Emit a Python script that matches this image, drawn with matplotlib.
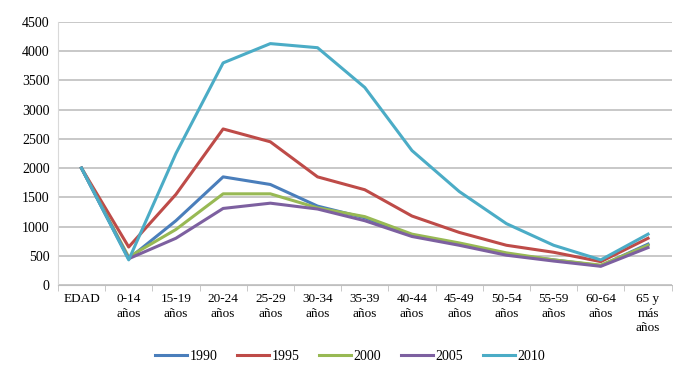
import matplotlib
matplotlib.use("Agg")
import matplotlib.pyplot as plt
import numpy as np

categories = ["EDAD", "0-14\naños", "15-19\naños", "20-24\naños", "25-29\naños", "30-34\naños",
              "35-39\naños", "40-44\naños", "45-49\naños", "50-54\naños", "55-59\naños",
              "60-64\naños", "65 y\nmás\naños"]
s1990 = [2000, 450, 1100, 1850, 1720, 1350, 1150, 850, 700, 530, 430, 330, 700]
s1995 = [2000, 650, 1550, 2670, 2450, 1850, 1630, 1180, 900, 680, 560, 400, 800]
s2000 = [2000, 480, 950, 1560, 1560, 1320, 1170, 870, 720, 550, 430, 340, 680]
s2005 = [2000, 450, 800, 1310, 1400, 1300, 1100, 830, 680, 510, 410, 320, 640]
s2010 = [2000, 430, 2250, 3800, 4130, 4060, 3380, 2300, 1600, 1050, 680, 430, 870]
series_names = ["1990", "1995", "2000", "2005", "2010"]
colors = ["#4A7EBB", "#BE4B48", "#98B954", "#7D60A0", "#4BACC6"]

plt.rcParams['font.family'] = ['Liberation Serif', 'DejaVu Serif']
fig = plt.figure(figsize=(6.73, 3.79), dpi=100)
ax = fig.add_axes([0.086, 0.248, 0.912, 0.694])

x = np.arange(len(categories))
for vals, name, c in zip([s1990, s1995, s2000, s2005, s2010], series_names, colors):
    ax.plot(x, vals, color=c, lw=2.2, label=name, solid_joinstyle='round')

ax.set_xlim(-0.5, len(categories) - 0.5)
ax.set_ylim(0, 4500)
ax.set_yticks(np.arange(0, 4501, 500))
ax.set_xticks(x)
ax.set_xticklabels(categories, fontsize=9.5, va='top', linespacing=1.25)
ax.set_xticks(np.arange(-0.5, len(categories), 1), minor=True)
ax.tick_params(axis='x', which='major', length=0, pad=6)
ax.tick_params(axis='x', which='minor', length=4, color='#BFBFBF')
ax.tick_params(axis='y', length=0, labelsize=10, pad=6)
ax.grid(axis='y', color='#BFBFBF', lw=1.2)
ax.set_axisbelow(True)
for s in ['top', 'right']:
    ax.spines[s].set_visible(False)
ax.spines['left'].set_color('#D9D9D9')
ax.spines['bottom'].set_color('#BFBFBF')

fig.legend(loc='center', bbox_to_anchor=(0.52, 0.06), ncol=5, frameon=False,
           fontsize=10, handlelength=2.3, columnspacing=1.4, handletextpad=0.2)

fig.savefig("out.png", dpi=100)
